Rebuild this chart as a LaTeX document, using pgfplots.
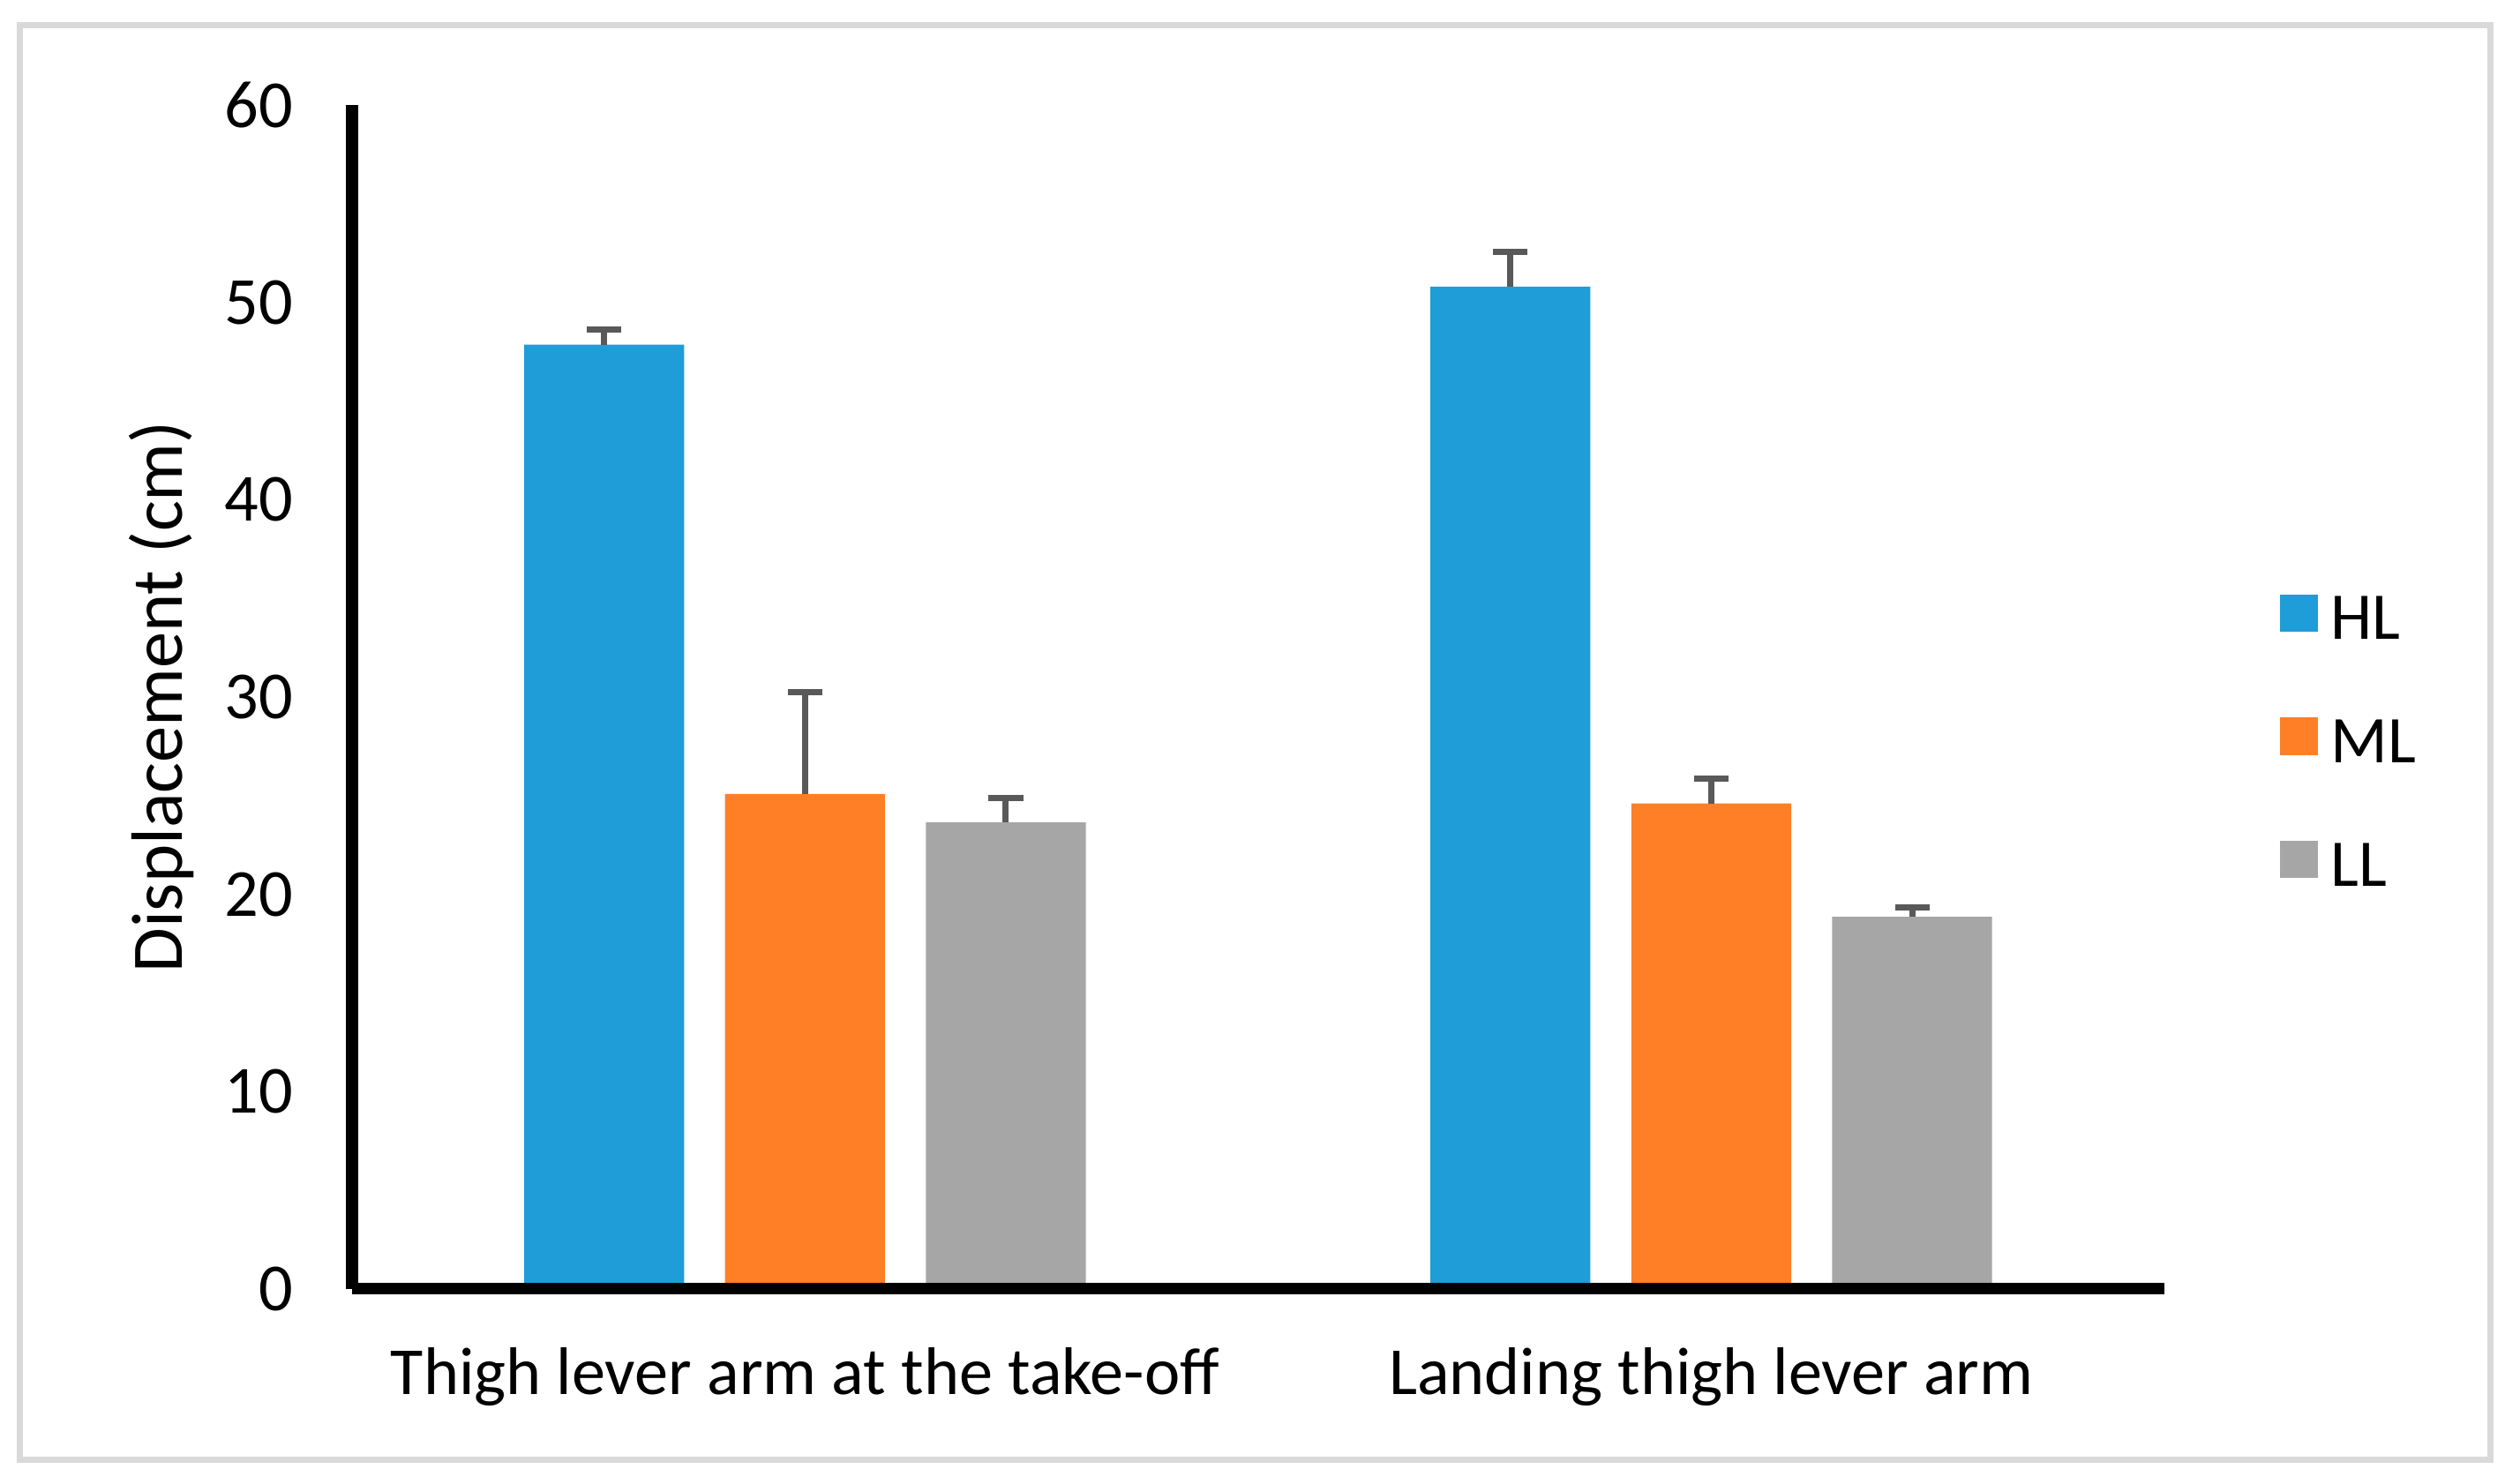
\documentclass[border=0pt]{standalone}
\usepackage{fontspec}
\setmainfont{Carlito}
\usepackage{pgfplots}
\pgfplotsset{compat=1.18}

\definecolor{hlblue}{RGB}{30,157,216}
\definecolor{mlorange}{RGB}{255,127,39}
\definecolor{llgray}{RGB}{166,166,166}
\definecolor{errgray}{RGB}{89,89,89}
\definecolor{framegray}{RGB}{217,217,217}

\begin{document}
\begin{tikzpicture}
\path[use as bounding box] (0,0) rectangle (468pt,275.46pt);
\draw[framegray, line width=1.1pt] (3.72pt,4.34pt) rectangle (462.52pt,270.82pt);
\begin{axis}[
    at={(65.35pt,36.09pt)}, anchor=south west,
    scale only axis,
    width=336.6pt, height=219.87pt,
    ybar, bar width=29.7pt,
    xmin=-0.5, xmax=1.5, ymin=0, ymax=60,
    enlargelimits=false,
    axis x line*=bottom, axis y line*=left,
    axis line style={line width=2.2pt},
    axis on top,
    major tick length=0pt,
    xtick={0,1},
    xticklabels={Thigh lever arm at the take-off, Landing thigh lever arm},
    ytick={0,10,...,60},
    /pgf/number format/assume math mode=true,
    ticklabel style={font=\fontsize{12.5}{15}\selectfont},
    yticklabel style={inner sep=0pt, xshift=-10.8pt},
    xticklabel style={anchor=base, inner sep=0pt, yshift=-19.6pt},
    ylabel={Displacement (cm)},
    ylabel style={at={(axis description cs:-0.0937,0.5)}, anchor=base,
        inner sep=0pt, font=\fontsize{13.5}{16}\selectfont},
    legend style={at={(axis description cs:1.0634,0.4633)}, anchor=west,
        draw=none, fill=none, inner sep=0pt,
        row sep=14.5pt,
        nodes={inner sep=0pt, text height=7.8pt, text depth=0pt},
        font=\fontsize{12.4}{15}\selectfont,
        /tikz/every odd column/.append style={column sep=2.5pt}},
    legend cell align=left,
    legend image code/.code={\fill[#1] (0pt,-0.5ex) rectangle ++(6.9pt,6.9pt);},
    error bars/y dir=plus,
    error bars/y explicit,
    error bars/error mark=|,
    error bars/error bar style={line width=1.15pt, color=errgray},
    error bars/error mark options={line width=1.15pt, mark size=3.2pt, color=errgray},
]
\addplot[fill=hlblue, draw=none, bar shift=-37.3pt]
    coordinates {(0,47.85) +- (0,0.77) (1,50.79) +- (0,1.78)};
\addlegendentry{HL}
\addplot[fill=mlorange, draw=none, bar shift=0pt]
    coordinates {(0,25.08) +- (0,5.18) (1,24.60) +- (0,1.25)};
\addlegendentry{ML}
\addplot[fill=llgray, draw=none, bar shift=37.3pt]
    coordinates {(0,23.64) +- (0,1.23) (1,18.86) +- (0,0.48)};
\addlegendentry{LL}
\end{axis}
\end{tikzpicture}
\end{document}
